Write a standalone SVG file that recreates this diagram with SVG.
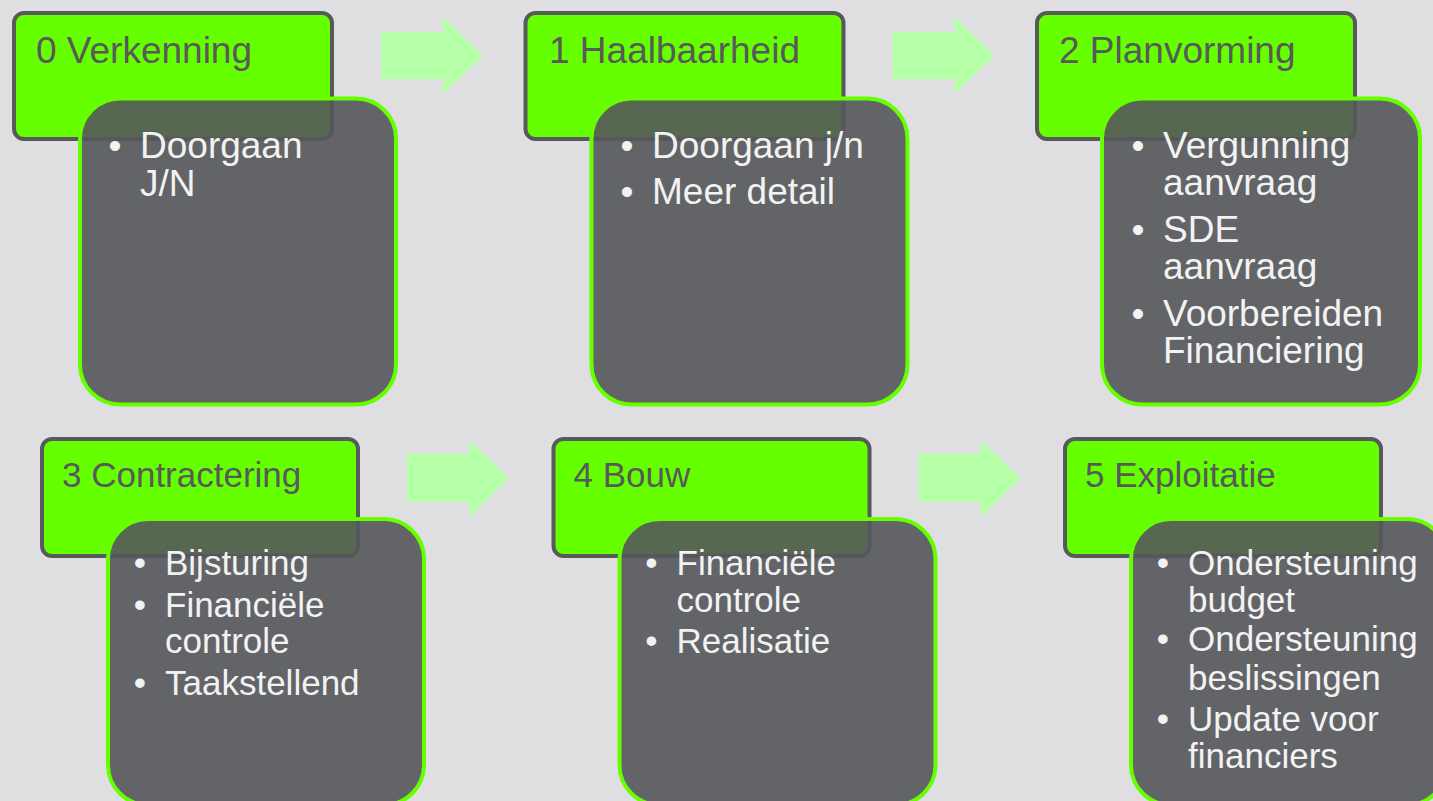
<svg xmlns="http://www.w3.org/2000/svg" width="1433" height="801" viewBox="0 0 1433 801">
<style>
.bg{fill:#dfdfe1}
.hdr{fill:#66ff00;stroke:#58595b;stroke-width:4}
.box{fill:#55565a;fill-opacity:0.9;stroke:#66ff00;stroke-width:4}
.ht{font-family:"Liberation Sans",Arial,sans-serif;fill:#58595b}
.bt{font-family:"Liberation Sans",Arial,sans-serif;fill:#f2f2f2}
.r1{font-size:37px}
.r2{font-size:35px}
.arr{fill:#b5ffa6}
</style>
<rect class="bg" x="0" y="0" width="1433" height="801"/>
<g id="connectors">
<polygon class="arr" points="381,32 443,32 443,17 483,55.5 443,94 443,79 381,79"/>
<polygon class="arr" points="892.5,32 954.5,32 954.5,17 994.5,55.5 954.5,94 954.5,79 892.5,79"/>
<polygon class="arr" points="407,454 469,454 469,440 509,478.5 469,517 469,502 407,502"/>
<polygon class="arr" points="918.5,454 980.5,454 980.5,440 1020.5,478.5 980.5,517 980.5,502 918.5,502"/>
</g>
<g id="node0">
<rect class="hdr" x="14" y="13" width="318" height="126" rx="10"/>
<text class="ht r1" x="36" y="63">0 Verkenning</text>
<rect class="box" x="80" y="98.5" width="316" height="306" rx="40"/>
<text class="bt r1" x="115" y="158" text-anchor="middle">•</text>
<text class="bt r1" x="140" y="158">Doorgaan</text>
<text class="bt r1" x="140" y="195.5">J/N</text>
</g>
<g id="node1">
<rect class="hdr" x="525.5" y="13" width="318" height="126" rx="10"/>
<text class="ht r1" x="549" y="63">1 Haalbaarheid</text>
<rect class="box" x="591.5" y="98.5" width="316" height="306" rx="40"/>
<text class="bt r1" x="627" y="158" text-anchor="middle">•</text>
<text class="bt r1" x="652" y="158">Doorgaan j/n</text>
<text class="bt r1" x="627" y="203.5" text-anchor="middle">•</text>
<text class="bt r1" x="652" y="203.5">Meer detail</text>
</g>
<g id="node2">
<rect class="hdr" x="1037" y="13" width="318" height="126" rx="10"/>
<text class="ht r1" x="1059" y="63">2 Planvorming</text>
<rect class="box" x="1102" y="98.5" width="318" height="306" rx="40"/>
<text class="bt r1" x="1138" y="158" text-anchor="middle">•</text>
<text class="bt r1" x="1163" y="158">Vergunning</text>
<text class="bt r1" x="1163" y="195">aanvraag</text>
<text class="bt r1" x="1138" y="242" text-anchor="middle">•</text>
<text class="bt r1" x="1163" y="242">SDE</text>
<text class="bt r1" x="1163" y="279">aanvraag</text>
<text class="bt r1" x="1138" y="325.5" text-anchor="middle">•</text>
<text class="bt r1" x="1163" y="325.5">Voorbereiden</text>
<text class="bt r1" x="1163" y="362.5">Financiering</text>
</g>
<g id="node3">
<rect class="hdr" x="42" y="439" width="316" height="117" rx="10"/>
<text class="ht r2" x="62" y="487">3 Contractering</text>
<rect class="box" x="108" y="519" width="316" height="286" rx="40"/>
<text class="bt r2" x="140" y="575" text-anchor="middle">•</text>
<text class="bt r2" x="165" y="575">Bijsturing</text>
<text class="bt r2" x="140" y="616.5" text-anchor="middle">•</text>
<text class="bt r2" x="165" y="616.5">Financiële</text>
<text class="bt r2" x="165" y="653">controle</text>
<text class="bt r2" x="140" y="694.5" text-anchor="middle">•</text>
<text class="bt r2" x="165" y="694.5">Taakstellend</text>
</g>
<g id="node4">
<rect class="hdr" x="553.5" y="439" width="316" height="117" rx="10"/>
<text class="ht r2" x="573.5" y="487">4 Bouw</text>
<rect class="box" x="619.5" y="519" width="316" height="286" rx="40"/>
<text class="bt r2" x="651.5" y="575" text-anchor="middle">•</text>
<text class="bt r2" x="676.5" y="575">Financiële</text>
<text class="bt r2" x="676.5" y="611.5">controle</text>
<text class="bt r2" x="651.5" y="653" text-anchor="middle">•</text>
<text class="bt r2" x="676.5" y="653">Realisatie</text>
</g>
<g id="node5">
<rect class="hdr" x="1065" y="439" width="316" height="117" rx="10"/>
<text class="ht r2" x="1085" y="487">5 Exploitatie</text>
<rect class="box" x="1131" y="519" width="316" height="286" rx="40"/>
<text class="bt r2" x="1163" y="575" text-anchor="middle">•</text>
<text class="bt r2" x="1188" y="575">Ondersteuning</text>
<text class="bt r2" x="1188" y="611.5">budget</text>
<text class="bt r2" x="1163" y="651" text-anchor="middle">•</text>
<text class="bt r2" x="1188" y="651">Ondersteuning</text>
<text class="bt r2" x="1188" y="689.5">beslissingen</text>
<text class="bt r2" x="1163" y="731" text-anchor="middle">•</text>
<text class="bt r2" x="1188" y="731">Update voor</text>
<text class="bt r2" x="1188" y="767.5">financiers</text>
</g>
</svg>
